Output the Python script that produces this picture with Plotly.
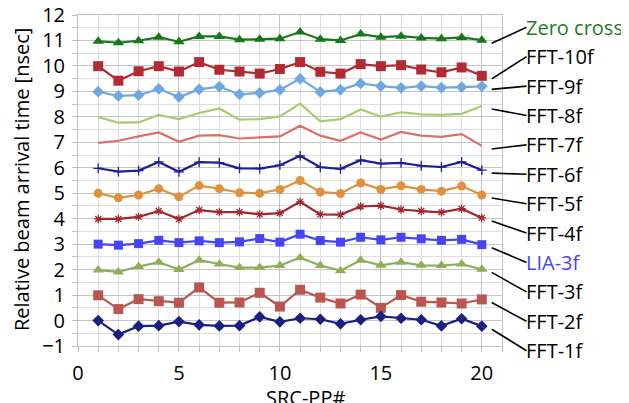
import plotly.graph_objects as go

x = list(range(1, 21))

zero_cross = [10.97, 10.91, 10.99, 11.13, 10.95, 11.16, 11.16, 11.03, 11.05, 11.07,
              11.33, 11.05, 11.00, 11.25, 11.13, 11.17, 11.10, 11.07, 11.12, 11.01]
fft10 = [9.99, 9.42, 9.79, 9.99, 9.78, 10.15, 9.85, 9.78, 9.70, 9.88,
         10.15, 9.77, 9.70, 10.07, 9.99, 10.03, 9.86, 9.75, 9.94, 9.61]
fft9 = [8.99, 8.82, 8.85, 9.10, 8.78, 9.08, 9.19, 8.88, 8.94, 9.06,
        9.50, 8.98, 9.06, 9.31, 9.21, 9.14, 9.21, 9.15, 9.17, 9.20]
fft8 = [7.99, 7.77, 7.78, 8.08, 7.91, 8.15, 8.33, 7.89, 7.91, 8.02,
        8.52, 7.82, 7.91, 8.29, 8.01, 8.18, 8.10, 8.08, 8.12, 8.43]
fft7 = [6.98, 7.06, 7.23, 7.39, 7.02, 7.26, 7.28, 7.15, 7.19, 7.23,
        7.65, 7.26, 7.06, 7.39, 7.11, 7.41, 7.26, 7.21, 7.32, 6.86]
fft6 = [5.98, 5.85, 5.89, 6.23, 5.84, 6.22, 6.20, 5.98, 5.97, 6.10,
        6.47, 6.02, 5.96, 6.30, 6.16, 6.19, 6.08, 6.03, 6.23, 5.91]
fft5 = [5.00, 4.82, 4.93, 5.18, 4.86, 5.30, 5.18, 5.02, 5.00, 5.15,
        5.50, 5.05, 4.99, 5.40, 5.15, 5.29, 5.15, 5.08, 5.28, 4.93]
fft4 = [3.99, 3.99, 4.07, 4.30, 3.99, 4.34, 4.26, 4.26, 4.17, 4.22,
        4.66, 4.17, 4.16, 4.48, 4.51, 4.36, 4.30, 4.25, 4.39, 4.03]
lia3 = [3.00, 2.96, 3.02, 3.15, 3.06, 3.13, 3.06, 3.09, 3.22, 3.08,
        3.39, 3.14, 3.08, 3.27, 3.17, 3.27, 3.21, 3.15, 3.19, 2.98]
fft3 = [1.98, 1.91, 2.12, 2.29, 2.00, 2.37, 2.22, 2.08, 2.08, 2.16,
        2.47, 2.16, 1.96, 2.37, 2.17, 2.29, 2.17, 2.16, 2.22, 2.01]
fft2 = [0.99, 0.45, 0.84, 0.76, 0.70, 1.30, 0.70, 0.71, 1.09, 0.55,
        1.21, 0.90, 0.67, 1.02, 0.50, 1.00, 0.74, 0.71, 0.67, 0.83]
fft1 = [0.00, -0.55, -0.22, -0.20, -0.04, -0.17, -0.21, -0.20, 0.14, -0.05,
        0.09, 0.05, -0.13, 0.03, 0.16, 0.09, 0.03, -0.21, 0.07, -0.22]

names = ["Zero cross", "FFT-10f", "FFT-9f", "FFT-8f", "FFT-7f", "FFT-6f",
         "FFT-5f", "FFT-4f", "LIA-3f", "FFT-3f", "FFT-2f", "FFT-1f"]
series = [zero_cross, fft10, fft9, fft8, fft7, fft6, fft5, fft4, lia3, fft3, fft2, fft1]
colors = ["#167816", "#B22A33", "#6FA8E0", "#A8CB6C", "#D9716A", "#1E1E9A",
          "#E0913F", "#A2282C", "#4545F5", "#8DAF5A", "#B9564F", "#1B2080"]
symbols = ["triangle-up", "square", "diamond", None, None, "cross-thin-open",
           "circle", "asterisk-open", "square", "triangle-up", "square", "diamond"]
msizes = [10, 10, 9, 0, 0, 7, 9, 7, 9, 10, 10, 9]
label_colors = ["#1E7B1E"] + ["#000000"] * 7 + ["#4545F5"] + ["#000000"] * 3

FONT = "Open Sans, Liberation Sans, Arial, sans-serif"
OFF = 8  # page body margin offset
W, H = 629 - OFF, 403 - OFF
L, T = 78 - OFF, 15 - OFF
PW, PH = 424, 331
R, B = W - L - PW, H - T - PH
YMIN, YMAX = -1, 12
XMAX = 21

def px2paper_x(px):
    return (px - OFF - L) / PW

def px2paper_y(py):
    return (T + PH - (py - OFF)) / PH

fig = go.Figure()
for name, ys, c, s, ms in zip(names, series, colors, symbols, msizes):
    if s is None:
        fig.add_trace(go.Scatter(x=x, y=ys, mode="lines", name=name,
                                 line=dict(color=c, width=2.2)))
    else:
        mk = dict(symbol=s, size=ms, color=c)
        if s.endswith("-open"):
            mk["line"] = dict(color=c, width=1.3)
        fig.add_trace(go.Scatter(x=x, y=ys, mode="lines+markers", name=name,
                                 line=dict(color=c, width=2.2), marker=mk))

shapes = []
annotations = []
label_y0 = 27.3
label_dy = 29.4
for k, (name, ys) in enumerate(zip(names, series)):
    ly = label_y0 + label_dy * k
    start_val = ys[-1] - 0.12
    sy = (start_val - YMIN) / (YMAX - YMIN)
    shapes.append(dict(type="line", xref="paper", yref="paper",
                       x0=px2paper_x(491.7), y0=sy,
                       x1=px2paper_x(526.5), y1=px2paper_y(ly),
                       line=dict(color="black", width=1.6)))
    annotations.append(dict(text=name, xref="paper", yref="paper",
                            x=px2paper_x(526), y=px2paper_y(ly),
                            xanchor="left", yanchor="middle", showarrow=False,
                            borderpad=0, borderwidth=0,
                            font=dict(size=20, color=label_colors[k], family=FONT)))

annotations.append(dict(text="Relative beam arrival time [nsec]", xref="paper", yref="paper",
                        x=px2paper_x(21), y=px2paper_y(180), textangle=-90,
                        xanchor="center", yanchor="middle", showarrow=False,
                        font=dict(size=20, color="black", family=FONT)))
annotations.append(dict(text="SRC-PP#", xref="paper", yref="paper",
                        x=px2paper_x(305), y=px2paper_y(397), xanchor="center",
                        yanchor="middle", showarrow=False,
                        font=dict(size=20, color="black", family=FONT)))

fig.update_layout(
    width=W, height=H,
    margin=dict(l=L, r=R, t=T, b=B, autoexpand=False),
    paper_bgcolor="white", plot_bgcolor="white",
    showlegend=False,
    font=dict(family=FONT, size=20, color="black"),
    shapes=shapes, annotations=annotations,
)
fig.update_xaxes(range=[0, XMAX], dtick=5, tick0=0, showgrid=True, gridcolor="#C4C4C4",
                 gridwidth=1, zeroline=False, showline=True, linecolor="#BFBFBF",
                 mirror=True, ticks="outside", ticklen=5, tickcolor="#BFBFBF",
                 ticklabelstandoff=4, automargin=False, ticklabeloverflow="allow",
                 minor=dict(dtick=1, showgrid=True, gridcolor="#DEDEDE",
                            ticks="outside", ticklen=5, tickcolor="#BFBFBF"),
                 tickfont=dict(size=20))
fig.update_yaxes(range=[YMIN, YMAX], dtick=1, tick0=0, showgrid=True, gridcolor="#C4C4C4",
                 gridwidth=1, zeroline=False, showline=True, linecolor="#BFBFBF",
                 mirror=True, ticks="outside", ticklen=5, tickcolor="#BFBFBF",
                 ticklabelstandoff=3, automargin=False, ticklabeloverflow="allow",
                 minor=dict(dtick=0.5, showgrid=True, gridcolor="#DEDEDE",
                            ticks="outside", ticklen=5, tickcolor="#BFBFBF"),
                 tickfont=dict(size=20))

fig.write_html("out.html")
